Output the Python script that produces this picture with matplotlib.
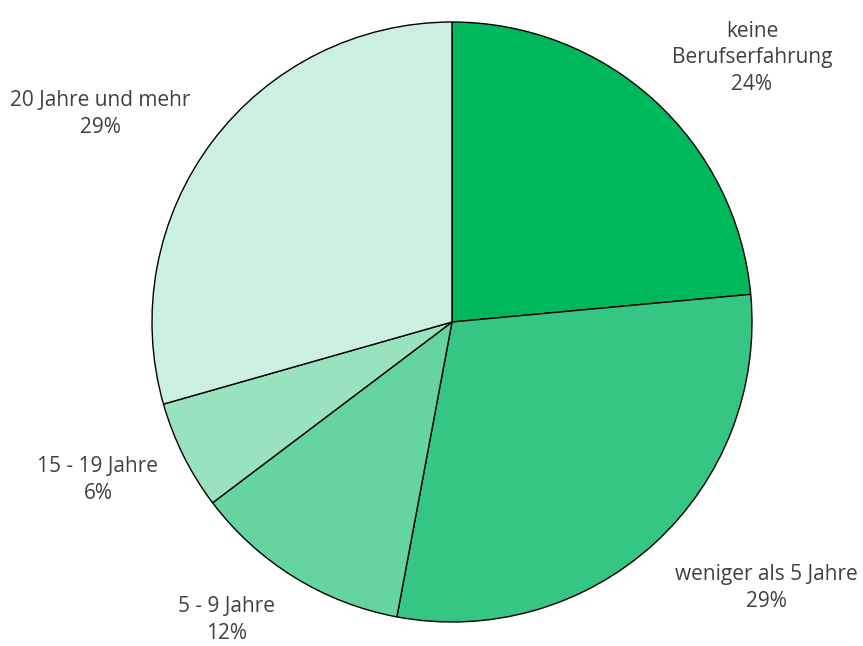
import matplotlib
matplotlib.use("Agg")
import matplotlib.pyplot as plt

# Anteile (Anzahl Befragte) je Kategorie
categories = ["keine\nBerufserfahrung", "weniger als 5 Jahre", "5 - 9 Jahre",
              "15 - 19 Jahre", "20 Jahre und mehr"]
counts = [4, 5, 2, 1, 5]
pct_labels = ["24%", "29%", "12%", "6%", "29%"]
colors = ["#00B85C", "#36C683", "#66D49E", "#99E2BE", "#CCF0DF"]

# label centres in pie radii (Excel "best fit" spots)
label_pos = [(1.00, 0.88), (1.047, -0.887), (-0.753, -0.993),
             (-1.18, -0.527), (-1.173, 0.693)]

W, H = 863, 646
cx, cy, R = 452, 322, 300  # pixels, y from top

fig = plt.figure(figsize=(W / 100, H / 100), dpi=100)
ax = fig.add_axes([0, 0, 1, 1])

wedges, _ = ax.pie(counts, colors=colors, startangle=90, counterclock=False,
                   radius=1, wedgeprops=dict(edgecolor="black", linewidth=1.0))

ax.set_aspect("auto")
ax.set_xlim(-cx / R, (W - cx) / R)
ax.set_ylim(-(H - cy) / R, cy / R)
ax.axis("off")

for cat, pct, (x, y) in zip(categories, pct_labels, label_pos):
    ax.text(x, y, f"{cat}\n{pct}", ha="center", va="center",
            fontsize=15, color="#404040", family="Open Sans", linespacing=1.35)

fig.savefig("out.png", dpi=100)
